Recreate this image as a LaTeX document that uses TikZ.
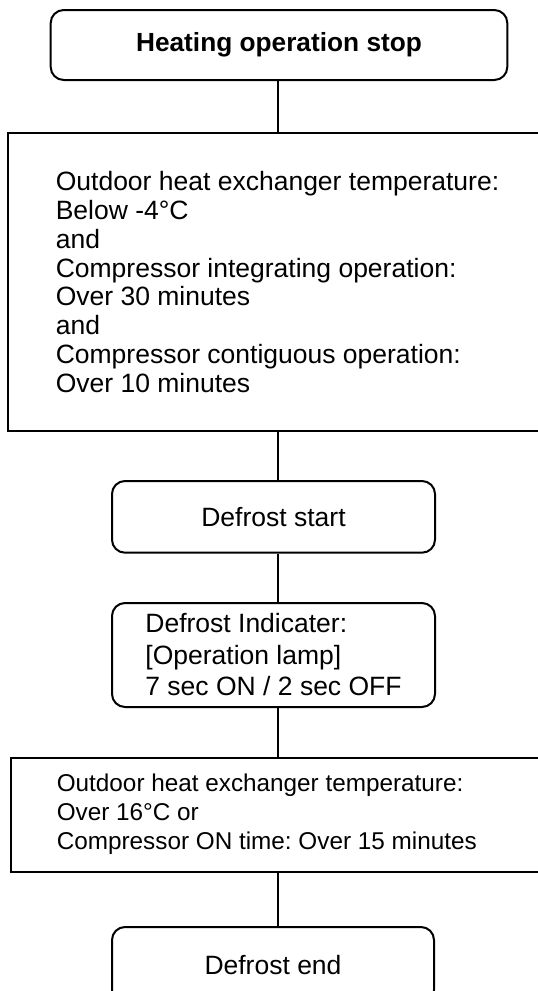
\documentclass[tikz,border=0pt]{standalone}
\usepackage{fontspec}
\setmainfont{Liberation Sans}
\frenchspacing
\newcommand{\ftitle}{\fontsize{26.25}{30}\selectfont\bfseries}
\newcommand{\fbig}{\fontsize{26.5}{31.5}\selectfont}
\newcommand{\fcond}{\fontsize{26.5}{28.8}\selectfont}
\newcommand{\fsmall}{\fontsize{24.3}{29}\selectfont}
\begin{document}
\frenchspacing
\begin{tikzpicture}[x=1pt,y=-1pt,
  box/.style={draw, line width=2pt, inner sep=0pt},
  rbox/.style={box, rounded corners=13pt},
  conn/.style={line width=1.8pt},
  txt/.style={inner sep=0pt, align=left, anchor=west}]
\clip (0,0) rectangle (538,991);
\coordinate (ax) at (278,0);
\node[rbox, minimum width=456.6, minimum height=70, font=\ftitle] (b1) at (279,45) {Heating operation stop};
\node[box, minimum width=539.4, minimum height=297.7] (b2) at (278,281.85) {};
\node[txt, font=\fcond] (t2) at (55.6,282) {Outdoor heat exchanger temperature:\\Below -4°C\\and\\Compressor integrating operation:\\Over 30 minutes\\and\\Compressor contiguous operation:\\Over 10 minutes};
\node[rbox, minimum width=323, minimum height=71.7, font=\fbig] (b3) at (273.5,516.85) {Defrost start};
\node[rbox, minimum width=323, minimum height=104, font=\fbig, align=left] (b4) at (273.5,655) {Defrost Indicater:\\{}[Operation lamp]\\7 sec ON / 2 sec OFF};
\node[box, minimum width=534, minimum height=114] (b5) at (278,815) {};
\node[txt, font=\fsmall] (t5) at (56.6,814) {Outdoor heat exchanger temperature:\\Over 16°C or\\Compressor ON time: Over 15 minutes};
\node[rbox, minimum width=322, minimum height=76, font=\fbig] (b6) at (273,965) {Defrost end};
\draw[conn] (b1.south -| ax) -- (b2.north -| ax);
\draw[conn] (b2.south -| ax) -- (b3.north -| ax);
\draw[conn] (b3.south -| ax) -- (b4.north -| ax);
\draw[conn] (b4.south -| ax) -- (b5.north -| ax);
\draw[conn] (b5.south -| ax) -- (b6.north -| ax);
\end{tikzpicture}
\end{document}
